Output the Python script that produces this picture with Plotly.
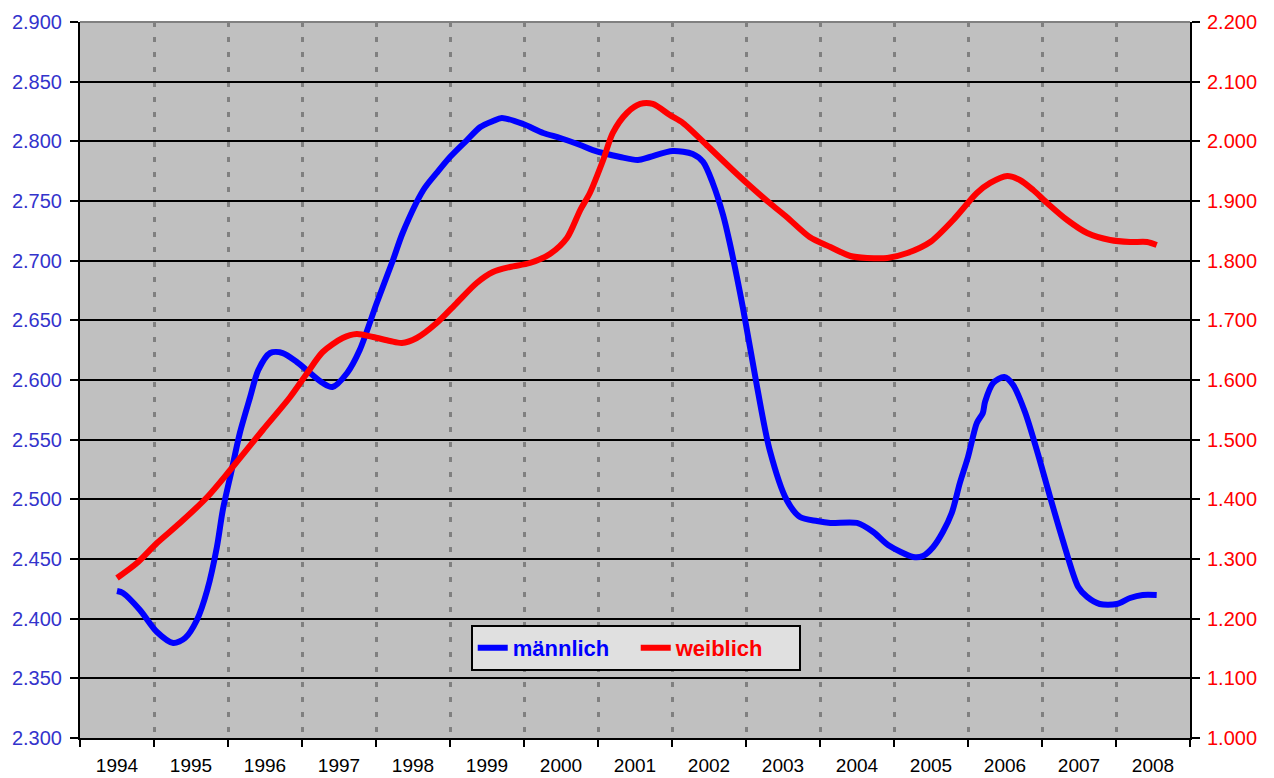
import plotly.graph_objects as go

# männlich (left axis)
m_year = [1994.00, 1994.08, 1994.31, 1994.54, 1994.76, 1994.92, 1995.08, 1995.22, 1995.35, 1995.43,
          1995.55, 1995.66, 1995.80, 1995.91, 1996.07, 1996.24, 1996.43, 1996.61, 1996.78, 1996.91,
          1997.11, 1997.28, 1997.51, 1997.73, 1997.86, 1998.14, 1998.32, 1998.50, 1998.73, 1998.91,
          1999.08, 1999.20, 1999.49, 1999.76, 1999.99, 2000.26, 2000.43, 2000.80, 2001.04, 2001.20,
          2001.51, 2001.78, 2001.92, 2002.05, 2002.19, 2002.28, 2002.46, 2002.65, 2002.82, 2003.05,
          2003.23, 2003.46, 2003.64, 2004.00, 2004.22, 2004.42, 2004.76, 2004.89, 2005.03, 2005.16,
          2005.28, 2005.39, 2005.50, 2005.62, 2005.70, 2005.73, 2005.84, 2005.99, 2006.11, 2006.27,
          2006.43, 2006.61, 2006.78, 2006.99, 2007.11, 2007.28, 2007.51, 2007.69, 2007.86, 2008.05]
m_val = [2.4232, 2.4215, 2.4073, 2.3888, 2.3796, 2.3838, 2.3989, 2.4240, 2.4601, 2.4911,
         2.5246, 2.5556, 2.5858, 2.6084, 2.6226, 2.6226, 2.6151, 2.6059, 2.5975, 2.5941,
         2.6059, 2.6251, 2.6645, 2.7006, 2.7232, 2.7592, 2.7735, 2.7869, 2.8011, 2.8120,
         2.8170, 2.8196, 2.8145, 2.8070, 2.8028, 2.7969, 2.7927, 2.7869, 2.7844, 2.7869,
         2.7919, 2.7894, 2.7827, 2.7651, 2.7383, 2.7150, 2.6600, 2.5941, 2.5413, 2.4994,
         2.4852, 2.4818, 2.4802, 2.4802, 2.4726, 2.4617, 2.4517, 2.4525, 2.4601, 2.4726,
         2.4885, 2.5137, 2.5355, 2.5640, 2.5723, 2.5816, 2.5975, 2.6025, 2.5958, 2.5732,
         2.5413, 2.5019, 2.4659, 2.4265, 2.4182, 2.4123, 2.4123, 2.4173, 2.4198, 2.4198]

# weiblich (right axis)
w_year = [1994.00, 1994.27, 1994.54, 1994.85, 1995.22, 1995.53, 1995.97, 1996.34, 1996.57, 1996.78,
          1997.05, 1997.24, 1997.46, 1997.69, 1997.85, 1998.05, 1998.32, 1998.59, 1998.86, 1999.08,
          1999.31, 1999.58, 1999.85, 2000.08, 2000.26, 2000.39, 2000.57, 2000.70, 2000.89, 2001.07,
          2001.24, 2001.47, 2001.65, 2002.01, 2002.32, 2002.51, 2002.82, 2003.05, 2003.36, 2003.64,
          2003.91, 2004.14, 2004.41, 2004.68, 2004.99, 2005.30, 2005.62, 2005.80, 2006.03, 2006.20,
          2006.38, 2006.57, 2006.84, 2007.11, 2007.42, 2007.69, 2007.92, 2008.05]
w_val = [1.2682, 1.2933, 1.3268, 1.3603, 1.4039, 1.4492, 1.5162, 1.5715, 1.6117, 1.6469,
         1.6704, 1.6771, 1.6721, 1.6654, 1.6620, 1.6704, 1.6955, 1.7290, 1.7626, 1.7810,
         1.7894, 1.7961, 1.8112, 1.8380, 1.8849, 1.9134, 1.9687, 2.0140, 2.0475, 2.0626,
         2.0626, 2.0441, 2.0307, 1.9888, 1.9520, 1.9302, 1.8966, 1.8732, 1.8397, 1.8229,
         1.8078, 1.8045, 1.8045, 1.8128, 1.8313, 1.8682, 1.9134, 1.9302, 1.9419, 1.9352,
         1.9184, 1.8966, 1.8682, 1.8464, 1.8346, 1.8313, 1.8313, 1.8263]

year_labels = [str(y) for y in range(1994, 2009)]
year_ticks = list(range(1994, 2009))

fig = go.Figure()
fig.add_trace(go.Scatter(x=m_year, y=m_val, mode="lines", yaxis="y",
                         name="<b><span style='color:#0000FF'>männlich</span></b>",
                         line=dict(color="#0000FF", width=6, shape="spline", smoothing=0.8)))
fig.add_trace(go.Scatter(x=w_year, y=w_val, mode="lines", yaxis="y2",
                         name="<b><span style='color:#FF0000'>weiblich</span></b>",
                         line=dict(color="#FF0000", width=6, shape="spline", smoothing=0.8)))

font_family = "Liberation Sans, Arial, sans-serif"

fig.update_layout(
    width=1266, height=770,
    margin=dict(l=72, r=84, t=14, b=40, autoexpand=False),
    paper_bgcolor="white",
    plot_bgcolor="#C0C0C0",
    font=dict(family=font_family, size=18, color="black"),
    showlegend=True,
    legend=dict(orientation="h", x=0.352, y=0.158, xanchor="left", yanchor="top",
                bgcolor="#E0E0E0", bordercolor="black", borderwidth=2,
                font=dict(size=22, family=font_family),
                entrywidth=118, entrywidthmode="pixels"),
    xaxis=dict(range=[1993.5, 2008.5], tickvals=year_ticks, ticktext=year_labels,
               ticks="", showgrid=False, zeroline=False, automargin=False,
               showline=True, linecolor="black", linewidth=2,
               ticklabelstandoff=9,
               tickfont=dict(size=19, color="black"),
               minor=dict(tick0=1993.5, dtick=1, ticks="outside", ticklen=7, tickcolor="black",
                          tickwidth=2, showgrid=True, gridcolor="#808080",
                          griddash="5px,10px", gridwidth=3)),
    yaxis=dict(range=[2.3, 2.9], dtick=0.05, tick0=2.3, tickformat=".3f",
               ticks="outside", ticklen=8, tickcolor="black", tickwidth=2,
               showline=True, linecolor="black", linewidth=2, automargin=False,
               showgrid=True, gridcolor="black", gridwidth=2, zeroline=False,
               ticklabelstandoff=4,
               tickfont=dict(size=20, color="#3333CC")),
    yaxis2=dict(range=[1.0, 2.2], dtick=0.1, tick0=1.0, tickformat=".3f",
                overlaying="y", side="right", automargin=False,
                ticks="outside", ticklen=8, tickcolor="black", tickwidth=2,
                showline=True, linecolor="black", linewidth=2,
                showgrid=False, zeroline=False,
                ticklabelstandoff=3,
                tickfont=dict(size=20, color="#FF0000")),
    shapes=[dict(type="line", xref="paper", yref="paper", x0=0, x1=1, y0=1, y1=1,
                 line=dict(color="#808080", width=2))],
)

fig.write_html("out.html")
